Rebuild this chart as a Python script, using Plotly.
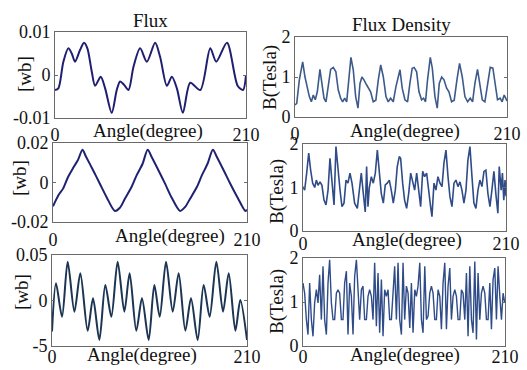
import plotly.graph_objects as go

# ---------------- data ----------------
# Panel 1: Flux (top-left), [wb]
p1_angle = [0, 3.7, 9.2, 14.7, 18.4, 22.0, 27.5, 31.9, 35.6, 40.4, 44.1, 50.3, 55.1, 62.4,
            67.9, 71.6, 76.0, 80.8, 86.3, 93.6, 101.0, 110.1, 115.6, 123.0, 128.5, 134.0,
            140.6, 148.7, 159.7, 170.7, 177.3, 189.1, 200.8, 206.7, 210]
p1_flux = [-0.0035, -0.0031, 0.0031, 0.0062, 0.0050, 0.0031, 0.0058, 0.0075, 0.0062, 0.0008,
           -0.0025, -0.0004, -0.0031, -0.0088, -0.0035, -0.0015, -0.0023, -0.0035, 0.0019,
           0.0062, 0.0031, 0.0075, 0.0042, -0.0025, -0.0004, -0.0031, -0.0088, -0.0018,
           -0.0035, 0.0062, 0.0031, 0.0075, -0.0025, -0.0035, 0.0]

# Panel 3: Flux (middle-left), [wb]
p3_angle = [0, 6.5, 10.9, 16.3, 22.4, 27.2, 31.9, 35.5, 43.4, 50.7, 57.9, 67.0, 72.4, 77.8,
            85.0, 90.5, 97.0, 102.5, 106.8, 114.1, 121.3, 128.5, 137.6, 143.0, 148.4, 155.7,
            161.1, 167.3, 173.1, 177.4, 184.7, 191.9, 199.9, 208.2, 210]
p3_flux = [-0.0120, -0.0060, -0.0031, 0.0028, 0.0078, 0.0116, 0.0166, 0.0133, 0.0062, -0.0006,
           -0.0073, -0.0144, -0.0128, -0.0082, -0.0023, 0.0036, 0.0095, 0.0166, 0.0129, 0.0062,
           -0.0006, -0.0077, -0.0144, -0.0124, -0.0082, -0.0023, 0.0036, 0.0095, 0.0166,
           0.0129, 0.0062, -0.0006, -0.0077, -0.0144, -0.0138]

# Panel 5: Flux (bottom-left), [wb]
p5_angle = [0, 4.3, 10.8, 16.9, 24.1, 30.5, 38.4, 44.2, 51.0, 57.4, 63.9, 70.7, 77.9, 83.6,
            90.8, 96.9, 104.1, 110.2, 116.0, 122.8, 130.0, 136.4, 143.6, 149.7, 156.9, 163.3,
            169.8, 177.0, 184.2, 190.3, 197.5, 202.8, 210]
p5_flux = [-0.034, 0.0189, -0.0178, 0.0427, -0.0123, 0.0299, -0.0332, 0.0024, -0.0434, 0.017,
           -0.0178, 0.0427, -0.0123, 0.0299, -0.0332, 0.0024, -0.0434, 0.017, -0.0178, 0.0427,
           -0.0123, 0.0299, -0.0332, 0.0024, -0.0434, 0.017, -0.0178, 0.0427, -0.0123, 0.0299,
           -0.0332, 0.0005, -0.0434]

# Panel 2: Flux density (top-right), Tesla
p2_angle = [0, 1.7, 4.3, 7.6, 9.9, 12.2, 14.2, 16.2, 18.1, 20.1, 22.1, 24.7, 26.7, 28.7, 30.7,
            33.0, 35.3, 37.9, 40.5, 42.8, 45.2, 47.2, 49.2, 51.2, 53.2, 55.4, 57.7, 60.1, 62.4,
            64.4, 66.3, 68.3, 71.0, 73.0, 74.9, 77.5, 80.1, 82.5, 84.9, 87.5, 90.1, 92.4, 94.7,
            97.3, 100.0, 104.0, 106.2, 108.9, 111.5, 113.8, 116.1, 118.0, 120.5, 122.8, 125.4,
            127.4, 129.3, 131.3, 134.0, 136.0, 138.6, 140.9, 142.9, 145.3, 147.6, 150.2, 152.5,
            155.1, 157.7, 160.4, 163.0, 165.7, 168.3, 171.0, 173.6, 175.9, 178.2, 180.8, 183.2,
            185.5, 188.1, 190.7, 193.4, 196.0, 198.6, 200.6, 203.2, 205.2, 207.2, 209.2, 210]
p2_b = [0.30, 0.34, 0.93, 1.38, 1.00, 0.72, 0.51, 0.38, 0.55, 0.43, 0.63, 1.19, 0.76, 0.47, 0.38,
        0.84, 1.19, 1.24, 1.13, 0.68, 0.47, 0.38, 0.47, 0.38, 1.00, 1.49, 1.18, 0.51, 0.22,
        0.84, 1.00, 0.93, 0.80, 0.72, 0.63, 0.38, 0.42, 0.93, 1.30, 1.00, 0.51, 0.38, 0.47,
        0.38, 0.76, 1.18, 0.72, 0.43, 0.38, 0.84, 1.22, 1.24, 1.13, 0.63, 0.43,
        0.47, 0.38, 0.93, 1.49, 1.22, 0.51, 0.22, 0.84, 1.00, 0.93, 0.72, 0.63,
        0.38, 0.42, 0.93, 1.34, 1.00, 0.51, 0.38, 0.47, 0.38, 0.84, 1.19, 0.80,
        0.43, 0.38, 0.84, 1.24, 1.22, 0.72, 0.43, 0.47, 0.38, 0.55, 0.43, 0.40]

# Panel 4: Flux density (middle-right), Tesla
p4_angle = [0, 1.7, 3.8, 5.9, 7.9, 10.0, 12.1, 13.8, 15.5, 17.6, 19.6, 21.7, 23.8, 25.9, 27.9,
            30.0, 32.1, 34.1, 36.2, 38.3, 40.3, 42.4, 44.5, 46.5, 48.6, 50.7, 53.4, 56.2, 58.3,
            60.3, 62.4, 64.4, 65.8, 67.2, 68.6, 70.7, 72.7, 74.8, 76.9, 78.9, 81.0, 83.1, 85.1,
            87.2, 89.3, 91.3, 93.4, 95.5, 97.5, 99.6, 101.0, 103.1, 105.1, 107.2, 109.3, 111.4,
            113.4, 115.5, 117.6, 119.6, 121.7, 123.8, 125.8, 127.9, 130.0, 132.0, 133.4, 135.5,
            137.5, 139.6, 141.7, 143.8, 145.8, 147.9, 150.0, 152.0, 154.1, 156.2, 158.2, 160.3,
            162.4, 164.4, 166.5, 168.6, 170.6, 172.7, 174.8, 176.8, 178.9, 181.0, 183.0, 185.1,
            187.2, 189.2, 191.3, 193.4, 195.4, 197.5, 199.6, 201.6, 203.0, 205.0, 206.3, 207.7,
            209.0, 210]
p4_b = [1.02, 0.94, 1.33, 1.79, 1.40, 1.10, 1.00, 1.17, 1.05, 1.13, 1.05, 0.71, 0.60, 0.94, 1.67,
        1.10, 0.60, 1.94, 1.33, 0.94, 0.56, 0.64, 1.17, 1.10, 1.33, 1.10, 0.64, 0.52, 0.94,
        1.33, 0.86, 0.44, 1.48, 0.56, 1.00, 1.25, 1.10, 1.33, 1.86, 1.33, 0.86, 0.64, 1.06,
        1.10, 1.17, 0.94, 0.64, 0.94, 1.48, 1.71, 1.67, 1.10, 0.71, 0.52, 0.86, 1.33,
        1.10, 0.94, 1.33, 0.94, 0.56, 1.37, 1.25, 1.33, 0.86, 0.56, 0.33, 1.10,
        0.94, 1.25, 1.10, 1.02, 1.56, 1.86, 1.25, 0.79, 0.56, 1.10, 1.17, 1.02,
        1.13, 0.94, 0.64, 0.94, 1.63, 1.94, 1.25, 0.64, 0.52, 0.94, 1.17, 1.02,
        1.37, 1.40, 0.86, 0.56, 0.94, 1.37, 0.83, 0.41, 1.48, 0.94, 1.33, 0.71,
        1.17, 0.80]

# Panel 6: Flux density (bottom-right), Tesla
p6_angle = [0, 1.7, 3.5, 5.2, 6.9, 8.7, 10.4, 12.1, 13.9, 15.6, 17.3, 19.1, 20.8, 22.5, 24.3,
            26.0, 27.7, 29.5, 31.2, 32.9, 34.7, 36.4, 38.1, 39.9, 41.6, 43.3, 45.1, 46.8, 48.5,
            50.3, 52.0, 53.7, 55.5, 57.2, 58.9, 60.7, 62.4, 64.1, 65.9, 67.6, 69.3, 71.1, 72.8,
            74.5, 76.3, 78.0, 79.7, 81.5, 83.2, 84.9, 86.7, 88.4, 90.1, 91.9, 93.6, 95.3, 97.1,
            98.8, 100.5, 102.3, 104.0, 105.7, 107.5, 109.2, 111.0, 112.7, 114.4, 116.2, 117.9,
            119.6, 121.4, 123.1, 124.8, 126.6, 128.3, 130.0, 131.8, 133.5, 135.2, 137.0, 138.7,
            140.4, 142.2, 143.9, 145.6, 147.4, 149.1, 150.8, 152.6, 154.3, 156.0, 157.8, 159.5,
            161.2, 163.0, 164.7, 166.4, 168.2, 169.9, 171.6, 173.4, 175.1, 176.8, 178.6, 180.3,
            182.0, 183.8, 185.5, 187.2, 189.0, 190.7, 192.4, 194.2, 195.9, 197.6, 199.4, 201.1,
            202.8, 204.6, 206.3, 208.0, 209.8]
p6_b = [1.43, 1.20, 0.60, 0.26, 1.43, 0.60, 0.22, 0.98, 1.28, 0.98, 1.62, 0.60, 1.81, 0.60, 0.26,
        1.43, 1.96, 0.98, 0.60, 0.60, 1.20, 1.28, 1.20, 0.60, 0.60, 1.43, 1.70, 0.26, 1.43,
        1.13, 0.26, 1.58, 1.96, 1.20, 0.60, 1.28, 1.36, 0.60, 0.60, 1.13, 1.28, 1.13, 0.60,
        1.89, 0.45, 1.66, 0.30, 1.51, 0.22, 1.28, 1.13, 1.28, 0.60, 0.60, 1.36, 1.81, 0.60,
        1.89, 0.60, 0.26, 1.89, 0.60, 1.36, 1.20, 0.41, 1.43, 0.30, 1.28, 1.13,
        1.36, 1.89, 0.60, 0.30, 1.81, 0.60, 0.68, 1.20, 1.36, 1.20, 0.60, 0.60,
        1.28, 1.13, 0.38, 1.43, 1.89, 0.38, 1.36, 1.77, 0.60, 1.13, 1.28, 1.13,
        0.60, 0.60, 1.28, 1.20, 0.60, 1.66, 0.22, 1.81, 0.60, 0.30, 1.92, 0.15,
        1.66, 0.60, 1.20, 1.36, 1.20, 0.60, 0.60, 1.43, 0.38, 1.51, 1.77, 0.60,
        1.81, 1.13, 0.60, 1.20, 0.98]

x_tickvals = [0, 210]
x_ticktext = ["0", "210"]
flux_titles = ["Flux", "Flux Density"]
x_title = "Angle(degree)"
y_titles = ["[wb]", "B(Tesla)"]

# ---------------- figure ----------------
W, H = 527, 370
FONT = "Liberation Serif, Times New Roman, serif"
FS = 18

def dx(a, b):
    return [a / W, b / W]

def dy(top, bottom):
    return [1 - bottom / H, 1 - top / H]

panels = [
    # (angle, values, color, width, spline, xdom px, ydom px, yrange, tickvals, ticktext, x-label standoff)
    (p1_angle, p1_flux, "#1f1f72", 2.0, True, (55, 246), (32, 118), [-0.01, 0.01],
     [-0.01, 0, 0.01], ["-0.01", "0", "0.01"], 0),
    (p2_angle, p2_b, "#3c5a8a", 1.6, False, (295, 507), (37, 117), [0, 2],
     [0, 1, 2], ["0", "1", "2"], 0),
    (p3_angle, p3_flux, "#1f2270", 2.0, True, (53, 247), (143, 222), [-0.02, 0.02],
     [-0.02, 0, 0.02], ["-0.02", "0", "0.02"], 1),
    (p4_angle, p4_b, "#2f4c88", 1.6, False, (303, 506), (144, 231), [0, 2],
     [0, 1, 2], ["0", "1", "2"], -4),
    (p5_angle, p5_flux, "#1b3553", 2.0, True, (52, 247), (255, 346), [-0.05, 0.05],
     [-0.05, 0, 0.05], ["-5", "0", "0.05"], -6),
    (p6_angle, p6_b, "#2f4c88", 1.4, False, (303, 505), (258, 346), [0, 2],
     [0, 1, 2], ["0", "1", "2"], -6),
]

fig = go.Figure()
layout = dict(
    width=W, height=H,
    autosize=False,
    margin=dict(l=0, r=0, t=0, b=0, pad=0, autoexpand=False),
    paper_bgcolor="white", plot_bgcolor="white",
    showlegend=False,
    font=dict(family=FONT, size=FS, color="#111111"),
)

for i, (ang, val, col, lw, spl, xd, yd, yr, tv, tt, xso) in enumerate(panels, start=1):
    xa = "x" if i == 1 else f"x{i}"
    ya = "y" if i == 1 else f"y{i}"
    line = dict(color=col, width=lw)
    if spl:
        line["shape"] = "spline"
        line["smoothing"] = 0.8
    fig.add_trace(go.Scatter(x=ang, y=val, mode="lines", line=line,
                             xaxis=xa, yaxis=ya, hoverinfo="skip"))
    common = dict(showline=True, mirror="ticks", linecolor="#6a6a6a", linewidth=1,
                  showgrid=False, zeroline=False, ticks="inside", ticklen=3,
                  tickcolor="#6a6a6a", automargin=False,
                  tickfont=dict(family=FONT, size=FS, color="#111111"))
    layout["xaxis" if i == 1 else f"xaxis{i}"] = dict(
        domain=dx(*xd), anchor=ya, range=[0, 210], tickmode="array",
        tickvals=x_tickvals, ticktext=x_ticktext, ticklabelstandoff=xso, **common)
    layout["yaxis" if i == 1 else f"yaxis{i}"] = dict(
        domain=dy(*yd), anchor=xa, range=yr, tickmode="array",
        tickvals=tv, ticktext=tt, ticklabelstandoff=0, **common)

fig.update_layout(**layout)

ann = []
# column titles
ann.append(dict(text=flux_titles[0], x=150 / W, y=1 - 20 / H))
ann.append(dict(text=flux_titles[1], x=401 / W, y=1 - 24 / H))
# x-axis titles
for (cx, cy) in [(148, 131), (405, 131), (170, 236), (407, 240), (142, 355), (405, 355)]:
    ann.append(dict(text=x_title, x=cx / W, y=1 - cy / H))
# y-axis titles
for (cx, cy, t) in [(25, 74, y_titles[0]), (270, 78, y_titles[1]), (19, 178, y_titles[0]),
                    (277, 192, y_titles[1]), (21, 292, y_titles[0]), (277, 302, y_titles[1])]:
    ann.append(dict(text=t, x=cx / W, y=1 - cy / H, textangle=-90))

for a in ann:
    a.update(xref="paper", yref="paper", showarrow=False, xanchor="center", yanchor="middle",
             font=dict(family=FONT, size=FS + 1, color="#111111"))
fig.update_layout(annotations=ann)

fig.write_html("out.html")
